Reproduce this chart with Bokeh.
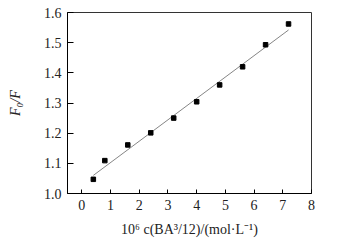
from bokeh.plotting import figure
from bokeh.models import FixedTicker, Range1d, NumeralTickFormatter
from bokeh.embed import file_html
from bokeh.resources import INLINE

# data
conc = [0.4, 0.8, 1.6, 2.4, 3.2, 4.0, 4.8, 5.6, 6.4, 7.2]
ratio = [1.047, 1.109, 1.161, 1.201, 1.250, 1.304, 1.360, 1.420, 1.493, 1.562]
fit_x = [0.4, 7.2]
fit_y = [1.060, 1.542]
x_ticks = [0, 1, 2, 3, 4, 5, 6, 7, 8]
y_ticks = [1.0, 1.1, 1.2, 1.3, 1.4, 1.5, 1.6]
x_title = "10\u2076 c(BA\u00b3/12)/(mol\u00b7L\u207b\u00b9)"
y_title = "F\u2080/F"

FONT = "Liberation Serif"
W, H = 343, 251
L, R, T, B = 67, 32, 12, 58
XMIN, XMAX, YMIN, YMAX = -0.5, 8.0, 1.0, 1.6

p = figure(width=W, height=H, output_backend="svg", toolbar_location=None,
           x_range=Range1d(XMIN, XMAX), y_range=Range1d(YMIN, YMAX))
p.min_border_left = L
p.min_border_right = R
p.min_border_top = T
p.min_border_bottom = B
p.background_fill_color = "white"
p.border_fill_color = "white"
p.outline_line_color = "#333333"
p.outline_line_width = 1
p.grid.visible = False

p.line(fit_x, fit_y, line_color="#777777", line_width=0.9)
p.scatter(conc, ratio, marker="square", size=4.5, fill_color="black", line_color="black")

for ax in (p.xaxis[0], p.yaxis[0]):
    ax.major_tick_out = 0
    ax.minor_tick_line_color = None
    ax.axis_line_color = "black"
    ax.major_tick_line_color = "black"
    ax.major_label_text_font = FONT
    ax.major_label_text_font_size = "14px"
    ax.major_label_text_color = "#222222"
    ax.axis_label_text_font = FONT
    ax.axis_label_text_font_size = "14px"
    ax.axis_label_text_color = "#222222"

p.xaxis[0].ticker = FixedTicker(ticks=x_ticks)
p.xaxis[0].major_tick_in = 4
p.xaxis[0].major_label_standoff = 6
p.xaxis[0].axis_label = x_title
p.xaxis[0].axis_label_text_font_style = "normal"
p.xaxis[0].axis_label_standoff = 9

p.yaxis[0].ticker = FixedTicker(ticks=y_ticks)
p.yaxis[0].formatter = NumeralTickFormatter(format="0.0")
p.yaxis[0].major_tick_in = 6
p.yaxis[0].major_label_standoff = 6
p.yaxis[0].axis_label = y_title
p.yaxis[0].axis_label_text_font_style = "italic"
p.yaxis[0].axis_label_standoff = 18

open("out.html", "w").write(file_html(p, INLINE))
